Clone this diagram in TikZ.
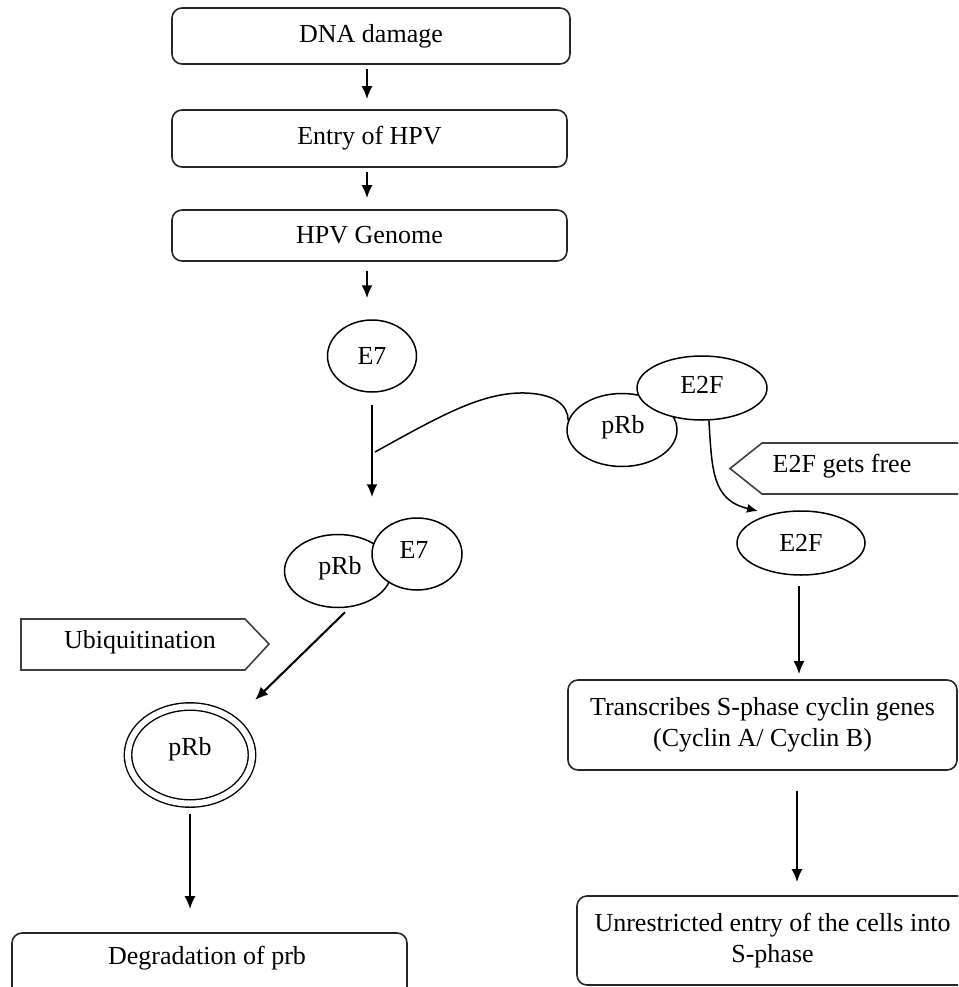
\documentclass[tikz,border=0pt]{standalone}
\usepackage{fontspec}
\setmainfont{Liberation Serif}
\usetikzlibrary{shapes.geometric,arrows.meta}
\begin{document}
\begin{tikzpicture}[x=1pt,y=-1pt,
  txt/.style={font=\fontsize{26}{31}\selectfont, align=center},
  box/.style={draw=black!85, line width=1.6pt, rounded corners=10pt, inner sep=0pt, txt},
  ell/.style={draw=black, ellipse, line width=1.5pt, fill=white, inner sep=0pt, txt},
  lbl/.style={txt, inner sep=0pt},
  pent/.style={draw=black!75, line width=1.6pt, line join=miter},
  arr/.style={line width=2.1pt, -{Latex[length=13pt,width=11pt]}},
  carr/.style={line width=1.5pt, -{Latex[length=11pt,width=9pt]}},
  inh/.style={line width=1.5pt}
]
\useasboundingbox (0,0) rectangle (958,987);
\clip (0,0) rectangle (958,987);

% top chain
\node[box, minimum width=398pt, minimum height=56pt] (dna) at (371,36) {DNA damage};
\node[box, minimum width=395pt, minimum height=57pt] (entry) at (369.5,138.5) {Entry of HPV};
\node[box, minimum width=395pt, minimum height=51pt] (genome) at (369.5,235.5) {HPV Genome};
\node[ell, minimum width=89pt, minimum height=72pt] (e7a) at (372,356) {E7};

\draw[arr, shorten <=4pt, shorten >=10pt] (dna.south -| 367,0) -- (entry.north -| 367,0);
\draw[arr, shorten <=4pt, shorten >=11pt] (entry.south -| 367,0) -- (genome.north -| 367,0);
\draw[arr, shorten <=9pt, shorten >=21pt] (genome.south -| 367,0) -- (e7a.north -| 367,0);

% right complex
\node[ell, minimum width=110pt, minimum height=73pt] (prbr) at (622,430) {};
\node[lbl] (prbrt) at (623,427) {pRb};
\node[ell, minimum width=130pt, minimum height=64pt] (e2ft) at (702,388) {};
\node[lbl] (e2ftt) at (702,385) {E2F};

% left complex
\node[ell, minimum width=107pt, minimum height=73pt] (prbl) at (338,571) {};
\node[lbl] (prblt) at (340,568) {pRb};
\node[ell, minimum width=90pt, minimum height=72pt] (e7b) at (417,554) {};
\node[lbl] (e7bt) at (414,550) {E7};

% E7 to complex, with inhibition line
\draw[arr, shorten <=12pt, shorten >=20pt] (e7a.south) -- (e7a.south |- e7b.north);
\coordinate (inhpt) at (375,452);
\draw[inh] (inhpt) .. controls (440,416) and (482,392) .. (525,393)
  .. controls (555,394) and (568,405) .. (prbr.170);

% E2F gets free
\node[ell, minimum width=128pt, minimum height=64pt] (e2fb) at (801,543) {E2F};
\coordinate (e2ftip) at (758,511);
\draw[carr] (e2ft.282) .. controls (712,470) and (712,500) .. (e2ftip);
\draw[pent] (965,443) -- (762,443) -- (730,468.5) -- (762,494) -- (965,494);
\node[lbl] (freet) at (842,466) {E2F gets free};

% right chain
\node[box, minimum width=389pt, minimum height=90pt] (trans) at (762.5,725) {Transcribes S-phase cyclin genes\\(Cyclin A/ Cyclin B)};
\node[box, minimum width=391pt, minimum height=89pt] (unres) at (772.5,940.5) {Unrestricted entry of the cells into\\S-phase};
\draw[arr, shorten <=10pt, shorten >=5pt] (e2fb.south -| 799,0) -- (trans.north -| 799,0);
\draw[arr, shorten <=20pt, shorten >=13pt] (trans.south -| 797,0) -- (unres.north -| 797,0);

% left chain
\draw[pent] (21,619) -- (245,619) -- (269,644) -- (245,670) -- (21,670) -- cycle;
\node[lbl] (ubq) at (140,642) {Ubiquitination};
\node[draw=black, ellipse, line width=1.4pt, double=white, double distance=6pt,
      inner sep=0pt, minimum width=124pt, minimum height=97pt] (dbl) at (190,755) {};
\node[lbl] (dblt) at (190,749) {pRb};
\draw[arr, shorten >=29pt] ([xshift=7pt,yshift=-4pt]prbl.south) -- (dbl.north east);
\node[box, minimum width=395pt, minimum height=64pt] (deg) at (209.5,965) {};
\node[lbl] (degt) at (207,958) {Degradation of prb};
\draw[arr, shorten <=10pt, shorten >=23pt] (dbl.south) -- (dbl.south |- deg.north);
\end{tikzpicture}
\end{document}
